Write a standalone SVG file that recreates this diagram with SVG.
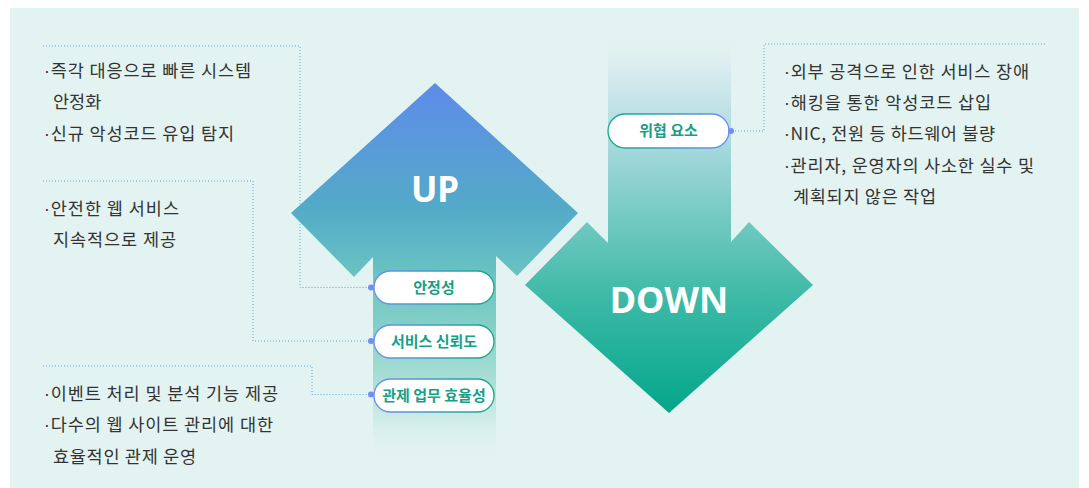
<svg xmlns="http://www.w3.org/2000/svg" width="1089" height="488" viewBox="0 0 1089 488">
<defs>
<linearGradient id="gUp" gradientUnits="userSpaceOnUse" x1="0" y1="83" x2="0" y2="460">
<stop offset="0" stop-color="#5e8bea"/>
<stop offset="0.34" stop-color="#53abc7"/>
<stop offset="0.52" stop-color="#6bc5c1"/>
<stop offset="0.66" stop-color="#86d1c8"/>
<stop offset="0.84" stop-color="#b8e4dc"/>
<stop offset="1" stop-color="#e3f3f1" stop-opacity="0"/>
</linearGradient>
<linearGradient id="gDown" gradientUnits="userSpaceOnUse" x1="0" y1="35" x2="0" y2="413">
<stop offset="0" stop-color="#e3f3f1" stop-opacity="0"/>
<stop offset="0.08" stop-color="#dcedf0"/>
<stop offset="0.25" stop-color="#b2dce2"/>
<stop offset="0.49" stop-color="#72c9c2"/>
<stop offset="0.70" stop-color="#3cb9a6"/>
<stop offset="1" stop-color="#03a68b"/>
</linearGradient>
<linearGradient id="gPillA" x1="0" y1="0" x2="1" y2="0">
<stop offset="0" stop-color="#6f8ff2"/>
<stop offset="1" stop-color="#17a98b"/>
</linearGradient>
<linearGradient id="gPillB" x1="0" y1="0" x2="1" y2="0">
<stop offset="0" stop-color="#17a98b"/>
<stop offset="1" stop-color="#6f8ff2"/>
</linearGradient>
<style>
.txt{font-family:"Noto Sans CJK KR","Noto Sans",sans-serif;font-size:17.5px;fill:#333333}
.b{font-family:"Liberation Sans",sans-serif}
.pill{fill:#ffffff;stroke-width:1.3}
.ptxt{font-family:"Noto Sans CJK KR","Noto Sans",sans-serif;font-size:15px;font-weight:600;fill:#16a088;text-anchor:middle}
.big{font-family:"Noto Sans","Noto Sans CJK KR",sans-serif;font-weight:700;fill:#ffffff;text-anchor:middle}
.dl{fill:none;stroke:#5aa6de;stroke-width:1;stroke-dasharray:1 2}
.dot{fill:#6f8ff2}
</style>
</defs>
<rect x="0" y="0" width="1089" height="488" fill="#ffffff"/>
<rect x="10" y="8" width="1069" height="480" fill="#e3f3f1"/>

<g id="connectors">
<polyline class="dl" points="43,46 300,46 300,287.5 371,287.5"/>
<polyline class="dl" points="43,181 253,181 253,341 371,341"/>
<polyline class="dl" points="43,366 312,366 312,394.5 371,394.5"/>
<polyline class="dl" points="1045,44 764,44 764,131 731,131"/>
</g>

<g id="up-arrow">
<path d="M435,83 L578,213 L517,276 L496,256 L496,460 L373,460 L373,257 L354,277 L291,213 Z" fill="url(#gUp)"/>
<text class="big" x="435" y="202" font-size="35">UP</text>
</g>

<g id="down-arrow">
<path d="M608,35 L731,35 L731,242 L749,222 L813,285 L669,413 L525,285 L587,222 L608,243 Z" fill="url(#gDown)"/>
<text class="big" x="669" y="313" font-size="36">DOWN</text>
</g>

<g id="node-stability">
<rect class="pill" x="374" y="271" width="120" height="33" rx="16.5" stroke="url(#gPillA)"/>
<text class="ptxt" x="434" y="293">안정성</text>
<circle class="dot" cx="371" cy="287.5" r="3"/>
</g>
<g id="node-reliability">
<rect class="pill" x="374" y="325" width="120" height="33" rx="16.5" stroke="url(#gPillA)"/>
<text class="ptxt" x="434" y="347">서비스 신뢰도</text>
<circle class="dot" cx="371" cy="341" r="3"/>
</g>
<g id="node-efficiency">
<rect class="pill" x="374" y="379" width="120" height="33" rx="16.5" stroke="url(#gPillA)"/>
<text class="ptxt" x="434" y="401">관제 업무 효율성</text>
<circle class="dot" cx="371" cy="394.5" r="3"/>
</g>
<g id="node-threat">
<rect class="pill" x="608" y="114" width="121" height="34" rx="17" stroke="url(#gPillB)"/>
<text class="ptxt" x="668.5" y="136">위협 요소</text>
<circle class="dot" cx="731" cy="131" r="3"/>
</g>

<g id="text-stability">
<text class="txt" x="44" y="77" textLength="207" lengthAdjust="spacing"><tspan class="b">·</tspan>즉각 대응으로 빠른 시스템</text>
<text class="txt" x="53" y="108">안정화</text>
<text class="txt" x="44" y="140" textLength="190" lengthAdjust="spacing"><tspan class="b">·</tspan>신규 악성코드 유입 탐지</text>
</g>
<g id="text-reliability">
<text class="txt" x="44" y="215" textLength="135" lengthAdjust="spacing"><tspan class="b">·</tspan>안전한 웹 서비스</text>
<text class="txt" x="53" y="246" textLength="123" lengthAdjust="spacing">지속적으로 제공</text>
</g>
<g id="text-efficiency">
<text class="txt" x="44" y="400" textLength="234" lengthAdjust="spacing"><tspan class="b">·</tspan>이벤트 처리 및 분석 기능 제공</text>
<text class="txt" x="44" y="431" textLength="229" lengthAdjust="spacing"><tspan class="b">·</tspan>다수의 웹 사이트 관리에 대한</text>
<text class="txt" x="53" y="463" textLength="143" lengthAdjust="spacing">효율적인 관제 운영</text>
</g>
<g id="text-threat">
<text class="txt" x="784" y="78" textLength="245" lengthAdjust="spacing"><tspan class="b">·</tspan>외부 공격으로 인한 서비스 장애</text>
<text class="txt" x="784" y="109" textLength="207" lengthAdjust="spacing"><tspan class="b">·</tspan>해킹을 통한 악성코드 삽입</text>
<text class="txt" x="784" y="140" textLength="211" lengthAdjust="spacing"><tspan class="b">·</tspan>NIC, 전원 등 하드웨어 불량</text>
<text class="txt" x="784" y="172" textLength="250" lengthAdjust="spacing"><tspan class="b">·</tspan>관리자, 운영자의 사소한 실수 및</text>
<text class="txt" x="793" y="203" textLength="143" lengthAdjust="spacing">계획되지 않은 작업</text>
</g>
</svg>
